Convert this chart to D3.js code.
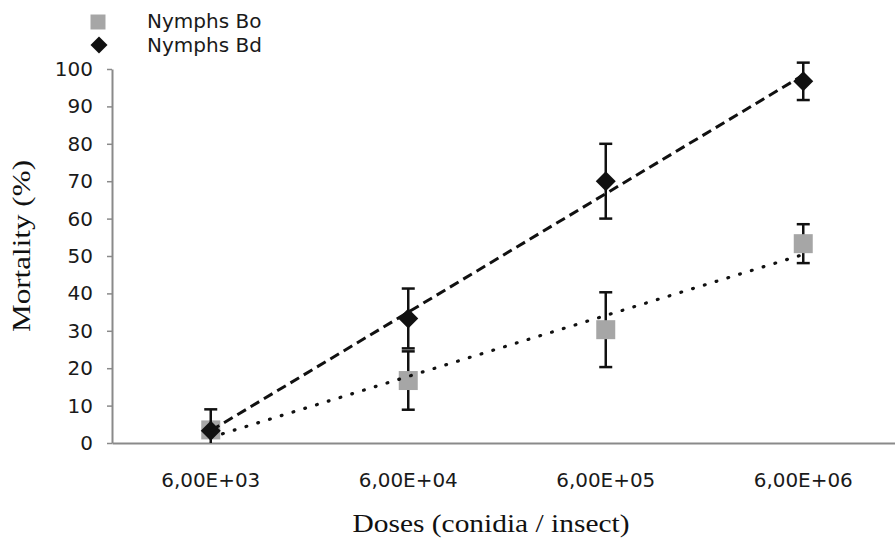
<!DOCTYPE html>
<html>
<head>
<meta charset="utf-8">
<script src="https://cdn.jsdelivr.net/npm/d3@7"></script>
<style>
  body { margin: 0; background: #fff; }
  svg { display: block; }
</style>
</head>
<body>
<div id="chart"></div>
<script>
// dose categories (x axis)
const doses = ['6,00E+03', '6,00E+04', '6,00E+05', '6,00E+06']

// mortality means and error (%)
const boMean = [3.5, 16.7, 30.3, 53.3]
const boErr = [2, 7.8, 10, 5.2]
const bdMean = [3.3, 33.3, 70, 96.7]
const bdErr = [5.7, 8, 10, 5]

const yTicks = [0, 10, 20, 30, 40, 50, 60, 70, 80, 90, 100]
const seriesNames = ['Nymphs Bo', 'Nymphs Bd']

var width = 895
var height = 543

var svg = d3.select('#chart').append('svg')
    .attr('width', width)
    .attr('height', height)

// scales
var x = d3.scaleBand()
    .domain(doses)
    .range([112, 902])

var y = d3.scaleLinear()
    .domain([0, 100])
    .range([443, 69])

function cx(d) { return x(d) + x.bandwidth() / 2 }

// clip the plot area so that nothing goes below 0
svg.append('clipPath').attr('id', 'plot-clip')
    .append('rect')
    .attr('x', 112).attr('y', 0)
    .attr('width', width).attr('height', y(0))

// y axis
var yAxis = d3.axisLeft(y)
    .tickValues(yTicks)
    .tickSize(5)
    .tickSizeOuter(0)
    .tickPadding(14)

var gy = svg.append('g')
    .attr('transform', 'translate(112,0)')
    .call(yAxis)
gy.select('.domain').attr('stroke', '#8a8a8a').attr('stroke-width', 2)
gy.selectAll('.tick line').attr('stroke', '#8a8a8a').attr('stroke-width', 1.5)
gy.selectAll('.tick text')
    .attr('font-family', 'DejaVu Sans, Verdana, sans-serif')
    .attr('font-size', 20)
    .attr('fill', '#1a1a1a')

// x axis (line + labels, no ticks)
var xAxis = d3.axisBottom(x)
    .tickSize(0)
    .tickSizeOuter(0)
    .tickPadding(31)

var gx = svg.append('g')
    .attr('transform', 'translate(0,' + y(0) + ')')
    .call(xAxis)
gx.select('.domain').attr('stroke', '#8a8a8a').attr('stroke-width', 2)
gx.selectAll('.tick text')
    .attr('font-family', 'DejaVu Sans, Verdana, sans-serif')
    .attr('font-size', 19)
    .attr('fill', '#1a1a1a')
    .attr('textLength', 99)
    .attr('lengthAdjust', 'spacingAndGlyphs')

// axis titles
svg.append('text')
    .attr('x', 491)
    .attr('y', 532)
    .attr('text-anchor', 'middle')
    .attr('font-family', 'Liberation Serif, Times New Roman, serif')
    .attr('font-size', 26)
    .attr('fill', '#111')
    .attr('textLength', 277)
    .attr('lengthAdjust', 'spacingAndGlyphs')
    .text('Doses (conidia / insect)')

svg.append('text')
    .attr('transform', 'translate(30,246) rotate(-90)')
    .attr('text-anchor', 'middle')
    .attr('font-family', 'Liberation Serif, Times New Roman, serif')
    .attr('font-size', 26)
    .attr('fill', '#111')
    .attr('textLength', 172)
    .attr('lengthAdjust', 'spacingAndGlyphs')
    .text('Mortality (%)')

var plot = svg.append('g').attr('clip-path', 'url(#plot-clip)')

// error bars
function drawErrors(means, errs) {
    var g = plot.append('g')
        .attr('stroke', '#111')
        .attr('stroke-width', 2.5)
    doses.forEach(function(d, i) {
        var top = y(means[i] + errs[i])
        var bot = y(means[i] - errs[i])
        g.append('line').attr('x1', cx(d)).attr('x2', cx(d)).attr('y1', top).attr('y2', bot)
        g.append('line').attr('x1', cx(d) - 6.5).attr('x2', cx(d) + 6.5).attr('y1', top).attr('y2', top)
        g.append('line').attr('x1', cx(d) - 6.5).attr('x2', cx(d) + 6.5).attr('y1', bot).attr('y2', bot)
    })
}

var squareSym = d3.symbol().type(d3.symbolSquare)
var diamondSym = d3.symbol().type(d3.symbolSquare)

// Bo: grey squares
drawErrors(boMean, boErr)
plot.append('g').selectAll('path')
    .data(boMean)
    .enter().append('path')
    .attr('d', squareSym.size(361)())
    .attr('transform', function(d, i) { return 'translate(' + cx(doses[i]) + ',' + y(d) + ')' })
    .attr('fill', '#a6a6a6')

// Bd: black diamonds
drawErrors(bdMean, bdErr)
plot.append('g').selectAll('path')
    .data(bdMean)
    .enter().append('path')
    .attr('d', diamondSym.size(200)())
    .attr('transform', function(d, i) { return 'translate(' + cx(doses[i]) + ',' + y(d) + ') rotate(45)' })
    .attr('fill', '#111')

// linear trendlines (least squares over category index)
function trend(means) {
    var xs = means.map(function(m, i) { return i + 1 })
    var mx = d3.mean(xs)
    var my = d3.mean(means)
    var num = d3.sum(xs, function(v, i) { return (v - mx) * (means[i] - my) })
    var den = d3.sum(xs, function(v) { return (v - mx) * (v - mx) })
    var slope = num / den
    var icpt = my - slope * mx
    return [0, doses.length - 1].map(function(i) {
        return [cx(doses[i]), y(icpt + slope * (i + 1))]
    })
}

var line = d3.line()

plot.append('path')
    .attr('d', line(trend(boMean)))
    .attr('fill', 'none')
    .attr('stroke', '#111')
    .attr('stroke-width', 3.2)
    .attr('stroke-linecap', 'round')
    .attr('stroke-dasharray', '0.8,11.5')

plot.append('path')
    .attr('d', line(trend(bdMean)))
    .attr('fill', 'none')
    .attr('stroke', '#111')
    .attr('stroke-width', 3)
    .attr('stroke-dasharray', '10,5.5')

// legend
var legend = svg.append('g')
legend.append('path')
    .attr('d', squareSym.size(225)())
    .attr('transform', 'translate(98,22)')
    .attr('fill', '#a6a6a6')
legend.append('path')
    .attr('d', diamondSym.size(144)())
    .attr('transform', 'translate(99,45) rotate(45)')
    .attr('fill', '#111')
legend.selectAll('text')
    .data(seriesNames)
    .enter().append('text')
    .attr('x', 147)
    .attr('y', function(d, i) { return 28 + i * 24 })
    .attr('font-family', 'DejaVu Sans, Verdana, sans-serif')
    .attr('font-size', 20)
    .attr('fill', '#1a1a1a')
    .text(function(d) { return d })
</script>
</body>
</html>
